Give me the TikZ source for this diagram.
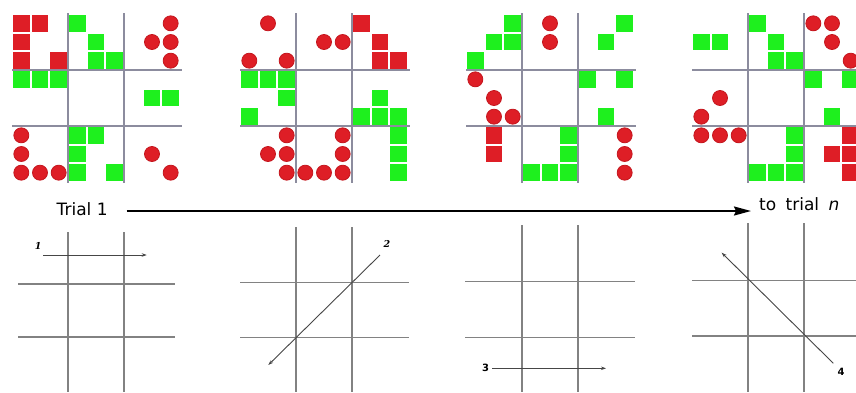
\documentclass[tikz,border=0pt]{standalone}
\usepackage{fontspec}
\newfontfamily\dvs{DejaVu Sans}
\newfontfamily\dvserif{DejaVu Serif}
\usetikzlibrary{arrows.meta}
\definecolor{rd}{RGB}{222,30,38}
\definecolor{rdo}{RGB}{196,22,30}
\definecolor{gn}{RGB}{30,240,30}
\definecolor{gl}{RGB}{140,140,158}
\definecolor{gl2}{RGB}{130,130,130}
\definecolor{ar}{RGB}{70,70,70}
\tikzset{
  gridtop/.style={draw=gl, line width=1.5pt},
  gridbot/.style={draw=gl2, line width=1.4pt},
  circ/.style={fill=rd, draw=rdo, line width=0.8pt},
  small arrow/.style={draw=ar, line width=0.9pt, -{Stealth[length=5pt,width=3.5pt]}},
  numlbl/.style={inner sep=0pt, font=\dvserif\fontsize{9.5}{10}\selectfont\bfseries\itshape},
  numlbls/.style={inner sep=0pt, font=\dvs\fontsize{10}{10}\selectfont\bfseries},
}
% squares: x0, R, C, colour, list of r/c
\newcommand\SQ[5]{\foreach \ri/\ci in {#5}{\fill[#4] ({#1+56*#3+18.667*\ci+1.1},{14+56*#2+18.667*\ri+1.1}) rectangle ++(16.5,16.5);}}
% circles: x0, R, C, list of r/c
\newcommand\CI[4]{\foreach \ri/\ci in {#4}{\filldraw[circ] ({#1+56*#3+18.667*\ci+9.33},{14+56*#2+18.667*\ri+9.33}) circle[radius=7.5pt];}}
\newcommand\TopGrid[1]{\draw[gridtop] ({#1+56},13)--({#1+56},183) ({#1+112},13)--({#1+112},183) (#1,70)--({#1+170},70) (#1,126)--({#1+170},126);}
% lower grid: x0, left, right, y1, y2, top
\newcommand\BotGrid[6]{\draw[gridbot] ({#1+56},#6)--({#1+56},392) ({#1+112},#6)--({#1+112},392) (#2,#4)--(#3,#4) (#2,#5)--(#3,#5);}
\begin{document}
\begin{tikzpicture}[x=1pt,y=-1pt]
\fill[white] (0,0) rectangle (856,392);
\useasboundingbox (0,0) rectangle (856,392);
\clip (0,0) rectangle (856,392);
% ---------- top grids ----------
\TopGrid{12}\TopGrid{240}\TopGrid{466}\TopGrid{692}
% panel 1
\SQ{12}{0}{0}{rd}{0/0,0/1,1/0,2/0,2/2}
\SQ{12}{0}{1}{gn}{0/0,1/1,2/1,2/2}
\CI{12}{0}{2}{0/2,1/1,1/2,2/2}
\SQ{12}{1}{0}{gn}{0/0,0/1,0/2}
\SQ{12}{1}{2}{gn}{1/1,1/2}
\CI{12}{2}{0}{0/0,1/0,2/0,2/1,2/2}
\SQ{12}{2}{1}{gn}{0/0,0/1,1/0,2/0,2/2}
\CI{12}{2}{2}{1/1,2/2}
% panel 2
\CI{240}{0}{0}{0/1,2/0,2/2}
\CI{240}{0}{1}{1/1,1/2}
\SQ{240}{0}{2}{rd}{0/0,1/1,2/1,2/2}
\SQ{240}{1}{0}{gn}{0/0,0/1,0/2,1/2,2/0}
\SQ{240}{1}{2}{gn}{1/1,2/0,2/1,2/2}
\CI{240}{2}{0}{0/2,1/1,1/2,2/2}
\CI{240}{2}{1}{0/2,1/2,2/0,2/1,2/2}
\SQ{240}{2}{2}{gn}{0/2,1/2,2/2}
% panel 3
\SQ{466}{0}{0}{gn}{0/2,1/1,1/2,2/0}
\CI{466}{0}{1}{0/1,1/1}
\SQ{466}{0}{2}{gn}{0/2,1/1}
\CI{466}{1}{0}{0/0,1/1,2/1,2/2}
\SQ{466}{1}{2}{gn}{0/0,0/2,2/1}
\SQ{466}{2}{0}{rd}{0/1,1/1}
\SQ{466}{2}{1}{gn}{0/2,1/2,2/0,2/1,2/2}
\CI{466}{2}{2}{0/2,1/2,2/2}
% panel 4
\SQ{692}{0}{0}{gn}{1/0,1/1}
\SQ{692}{0}{1}{gn}{0/0,1/1,2/1,2/2}
\CI{692}{0}{2}{0/0,0/1,1/1,2/2}
\CI{692}{1}{0}{1/1,2/0}
\SQ{692}{1}{2}{gn}{0/0,0/2,2/1}
\CI{692}{2}{0}{0/0,0/1,0/2}
\SQ{692}{2}{1}{gn}{0/2,1/2,2/0,2/1,2/2}
\SQ{692}{2}{2}{rd}{0/2,1/1,1/2,2/2}
% ---------- timeline ----------
\node[anchor=base west, inner sep=0pt, font=\dvs\fontsize{17}{17}\selectfont] (t1) at (56.5,215.5) {Trial 1};
\node[anchor=base west, inner sep=0pt, font=\dvs\fontsize{17}{17}\selectfont] (tn) at (759,210.7) {to\hspace{4pt} trial\hspace{4pt} \textit{n}};
\coordinate (a0) at (126.7,211);
\coordinate (a1) at (751,211);
\draw[line width=1.8pt, -{Stealth[length=17pt,width=9pt,inset=2pt]}] (a0) -- (a1);
% ---------- lower grids ----------
\BotGrid{12}{18}{175}{284}{337}{232}
\BotGrid{240}{240}{409}{282.3}{337.7}{227}
\BotGrid{466}{465}{635}{281.7}{337.7}{225}
\BotGrid{692}{692}{860}{280.7}{336}{223}
% arrows
\node[numlbl] (n1) at (38.3,245.5) {1};
\coordinate (p1a) at (43.3,255);
\coordinate (p1b) at (146.7,255);
\draw[small arrow] (p1a) -- (p1b);
\node[numlbl] (n2) at (387,243.5) {2};
\coordinate (p2a) at (380,255);
\coordinate (p2b) at (268.3,365);
\draw[small arrow] (p2a) -- (p2b);
\node[numlbls] (n3) at (485.5,367.5) {3};
\coordinate (p3a) at (492,368.3);
\coordinate (p3b) at (606,368.3);
\draw[small arrow] (p3a) -- (p3b);
\node[numlbls] (n4) at (841,371.5) {4};
\coordinate (p4a) at (833.3,363.3);
\coordinate (p4b) at (721.7,252.7);
\draw[small arrow] (p4a) -- (p4b);
\end{tikzpicture}
\end{document}
